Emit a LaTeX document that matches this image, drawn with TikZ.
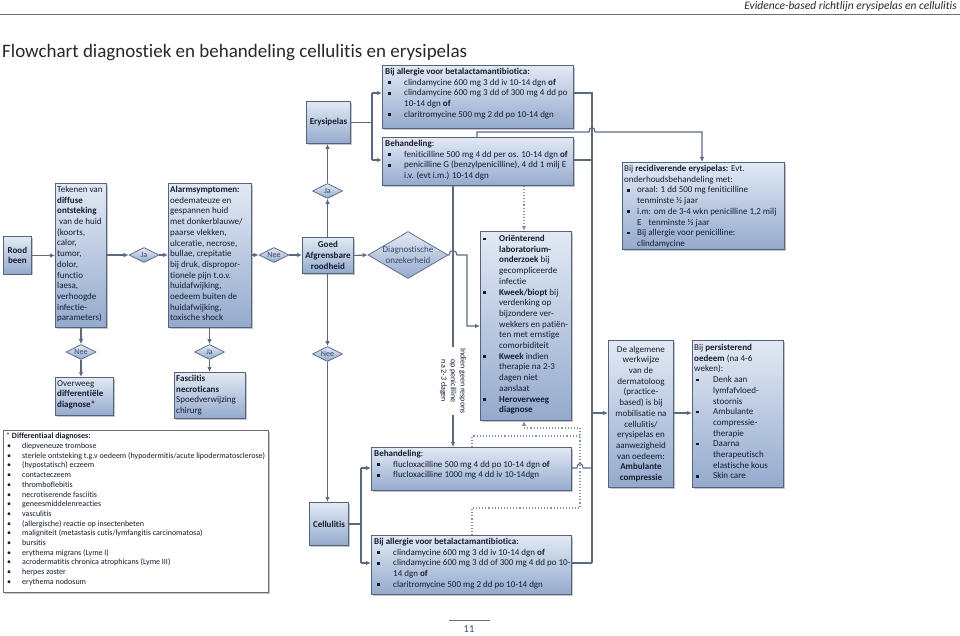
\documentclass[tikz,border=0pt]{standalone}
\usepackage{fontspec}
\setmainfont{Carlito}[Ligatures=NoCommon]
\usetikzlibrary{arrows.meta,shapes.geometric,shadows}

\definecolor{boxtop}{RGB}{226,233,244}
\definecolor{boxbot}{RGB}{148,170,205}
\definecolor{bordc}{RGB}{84,100,126}
\definecolor{txtc}{RGB}{20,28,46}
\definecolor{linec}{RGB}{92,106,128}
\definecolor{dlabc}{RGB}{56,72,98}
\definecolor{dotc}{RGB}{135,145,160}
\definecolor{hdrc}{RGB}{40,40,40}
\definecolor{rulec}{RGB}{110,110,110}

\newcommand{\fsz}{\fontsize{9}{10.7}\selectfont}
\newcommand{\xbul}[1]{\makebox[#1][l]{\raisebox{1.4pt}{\rule{2.6pt}{2.6pt}}}}
\newcommand{\xB}[2]{\hspace*{#1}\xbul{#2}}
\newcommand{\xI}[2]{\hspace*{\dimexpr#1+#2\relax}}
\newcommand{\xsq}{\xB{3pt}{16pt}}
\newcommand{\xind}{\xI{3pt}{16pt}}
\newcommand{\xrsq}{\xB{3pt}{10pt}}
\newcommand{\xrind}{\xI{3pt}{10pt}}
\newcommand{\xpsq}{\xB{2pt}{17pt}}
\newcommand{\xpind}{\xI{2pt}{17pt}}
\newcommand{\xosq}{\xB{0pt}{16pt}}
\newcommand{\xoind}{\xI{0pt}{16pt}}
\newcommand{\xdsq}{\hspace*{1pt}\makebox[15pt][l]{\textbullet}}

\begin{document}
\begin{tikzpicture}[x=1pt,y=-1pt,
  box/.style={draw=bordc, line width=0.9pt, top color=boxtop, bottom color=boxbot,
    drop shadow={shadow xshift=1.3pt, shadow yshift=-1.3pt, opacity=0.45},
    inner sep=0pt, anchor=north west, text=txtc, font=\fsz},
  tx/.style={inner sep=0pt, anchor=north west, align=left, text=txtc, font=\fsz},
  dec/.style={diamond, aspect=2, draw=bordc, line width=0.7pt, top color=boxtop, bottom color=boxbot,
    minimum width=30pt, minimum height=15pt, inner sep=0pt, text=dlabc, font=\fontsize{8}{9}\selectfont},
  conn/.style={draw=linec, line width=1.1pt},
  arr/.style={conn, -{Latex[length=5pt,width=4.5pt]}},
  dots/.style={draw=dotc, line width=1.1pt, dotted},
  dotarr/.style={dots, -{Latex[length=5pt,width=4.5pt]}}
]
\fill[white] (0,0) rectangle (960,636);
\useasboundingbox (0,0) rectangle (960,636);

% header
\node[anchor=east, inner sep=0pt, font=\fontsize{11.5}{13}\selectfont\itshape, text=hdrc] (hdr) at (957,6) {Evidence-based richtlijn erysipelas en cellulitis};
\draw[rulec, line width=1.4pt] (0,14.5) -- (960,14.5);
\node[anchor=west, inner sep=0pt, font=\fontsize{19}{22}\selectfont, text=hdrc] (title) at (2,53) {Flowchart diagnostiek en behandeling cellulitis en erysipelas};

% left chain
\node[box, minimum width=28pt, minimum height=37pt, align=center, font=\bfseries\fsz] (rood) at (3,236.5) {Rood\\been};

\node[box, minimum width=51pt, minimum height=144pt] (tek) at (55,183) {};
\node[tx] (tekt) at ([xshift=2pt,yshift=-3pt]tek.north west) {Tekenen van\\\textbf{diffuse}\\\textbf{ontsteking}\\\hspace*{2pt}van de huid\\(koorts,\\calor,\\tumor,\\dolor,\\functio\\laesa,\\verhoogde\\infectie-\\parameters)};

\node[dec] (ja1) at (144,255) {Ja};

\node[box, minimum width=83pt, minimum height=144pt] (alarm) at (168,183) {};
\node[tx] (alarmt) at ([xshift=2pt,yshift=-3pt]alarm.north west) {\textbf{Alarmsymptomen:}\\oedemateuze en\\gespannen huid\\met donkerblauwe/\\paarse vlekken,\\ulceratie, necrose,\\bullae, crepitatie\\bij druk, dispropor-\\tionele pijn t.o.v.\\huidafwijking,\\oedeem buiten de\\huidafwijking,\\toxische shock};

\node[dec] (nee1) at (274,255) {Nee};

\node[box, minimum width=51pt, minimum height=36pt, align=center, font=\bfseries\fsz] (goed) at (302,237) {Goed\\Afgrensbare\\roodheid};

\node[dec, minimum width=80pt, minimum height=47pt] (dia) at (408,255) {};
\node[inner sep=0pt, align=center, text=dlabc, font=\fsz] (diat) at (dia) {Diagnostische\\onzekerheid};

% below tek / alarm
\node[dec] (nee2) at (81,352) {Nee};
\node[box, minimum width=58pt, minimum height=38pt] (over) at (55,377) {};
\node[tx] (overt) at ([xshift=2pt,yshift=-3pt]over.north west) {Overweeg\\\textbf{differentiële}\\\textbf{diagnose*}};

\node[dec] (ja2) at (209.5,352) {Ja};
\node[box, minimum width=71pt, minimum height=46pt] (fasc) at (174,372) {};
\node[tx] (fasct) at ([xshift=2pt,yshift=-3pt]fasc.north west) {\textbf{Fasciitis}\\\textbf{necroticans}\\Spoedverwijzing\\chirurg};

% centre column
\node[dec] (ja3) at (327.5,191) {Ja};
\node[box, minimum width=44pt, minimum height=42pt, font=\bfseries\fsz] (erys) at (306,101) {Erysipelas};
\node[dec] (nee3) at (327.5,354) {Nee};
\node[box, minimum width=39pt, minimum height=43pt, font=\bfseries\fsz] (cell) at (309,502) {Cellulitis};

% differential
\node[draw=rulec, line width=0.9pt, fill=white, drop shadow={shadow xshift=1.3pt, shadow yshift=-1.3pt, opacity=0.45}, anchor=north west, inner sep=0pt, minimum width=265pt, minimum height=162pt] (diff) at (3,430) {};
\node[tx, font=\fontsize{8}{9.7}\selectfont] (difft) at ([xshift=3pt,yshift=-3pt]diff.north west) {* \textbf{Differentiaal diagnoses:}\\
\xdsq diepveneuze trombose\\
\xdsq steriele ontsteking t.g.v oedeem (hypodermitis/acute lipodermatosclerose)\\
\xdsq (hypostatisch) eczeem\\
\xdsq contacteczeem\\
\xdsq thromboflebitis\\
\xdsq necrotiserende fasciitis\\
\xdsq geneesmiddelenreacties\\
\xdsq vasculitis\\
\xdsq (allergische) reactie op insectenbeten\\
\xdsq maligniteit (metastasis cutis/lymfangitis carcinomatosa)\\
\xdsq bursitis\\
\xdsq erythema migrans (Lyme I)\\
\xdsq acrodermatitis chronica atrophicans (Lyme III)\\
\xdsq herpes zoster\\
\xdsq erythema nodosum};

% erysipelas treatment
\node[box, minimum width=191pt, minimum height=63pt] (all1) at (382,65) {};
\node[tx] (all1t) at ([xshift=3pt,yshift=-3pt]all1.north west) {\textbf{Bij allergie voor betalactamantibiotica:}\\
\xsq clindamycine 600 mg 3 dd iv 10-14 dgn \textbf{of}\\
\xsq clindamycine 600 mg 3 dd of 300 mg 4 dd po\\
\xind 10-14 dgn \textbf{of}\\
\xsq claritromycine 500 mg 2 dd po 10-14 dgn};

\node[box, minimum width=191pt, minimum height=48pt] (beh1) at (382,137) {};
\node[tx] (beh1t) at ([xshift=3pt,yshift=-3pt]beh1.north west) {\textbf{Behandeling}:\\
\xsq feniticilline 500 mg 4 dd per os. 10-14 dgn \textbf{of}\\
\xsq penicilline G (benzylpenicilline), 4 dd 1 milj E\\
\xind i.v. (evt i.m.) 10-14 dgn};

% orienterend
\node[box, minimum width=91pt, minimum height=189pt] (ori) at (480,231) {};
\node[tx] (orit) at ([xshift=3pt,yshift=-4pt]ori.north west) {\xosq\textbf{Oriënterend}\\
\xoind\textbf{laboratorium-}\\
\xoind\textbf{onderzoek} bij\\
\xoind gecompliceerde\\
\xoind infectie\\
\xosq\textbf{Kweek/biopt} bij\\
\xoind verdenking op\\
\xoind bijzondere ver-\\
\xoind wekkers en patiën-\\
\xoind ten met ernstige\\
\xoind comorbiditeit\\
\xosq\textbf{Kweek} indien\\
\xoind therapie na 2-3\\
\xoind dagen niet\\
\xoind aanslaat\\
\xosq\textbf{Heroverweeg}\\
\xoind\textbf{diagnose}};

% cellulitis treatment
\node[box, minimum width=200pt, minimum height=43pt] (beh2) at (371,447) {};
\node[tx] (beh2t) at ([xshift=3pt,yshift=-3pt]beh2.north west) {\textbf{Behandeling}:\\
\xsq flucloxacilline 500 mg 4 dd po 10-14 dgn \textbf{of}\\
\xsq flucloxacilline 1000 mg 4 dd iv 10-14dgn};

\node[box, minimum width=200pt, minimum height=59pt] (all2) at (371,535) {};
\node[tx] (all2t) at ([xshift=3pt,yshift=-3pt]all2.north west) {\textbf{Bij allergie voor betalactamantibiotica:}\\
\xsq clindamycine 600 mg 3 dd iv 10-14 dgn \textbf{of}\\
\xsq clindamycine 600 mg 3 dd of 300 mg 4 dd po 10-\\
\xind 14 dgn \textbf{of}\\
\xsq claritromycine 500 mg 2 dd po 10-14 dgn};

% right column
\node[box, minimum width=162pt, minimum height=87pt] (recid) at (622,162) {};
\node[tx] (recidt) at ([xshift=2pt,yshift=-3pt]recid.north west) {Bij \textbf{recidiverende erysipelas:} Evt.\\
onderhoudsbehandeling met:\\
\xrsq oraal: 1 dd 500 mg feniticilline\\
\xrind tenminste ½ jaar\\
\xrsq i.m: om de 3-4 wkn penicilline 1,2 milj\\
\xrind E\hspace*{5pt} tenminste ½ jaar\\
\xrsq Bij allergie voor penicilline:\\
\xrind clindamycine};

\node[box, minimum width=65pt, minimum height=147pt] (alg) at (608,340) {};
\node[inner sep=0pt, align=center, text=txtc, font=\fsz] (algt) at (alg) {De algemene\\werkwijze\\van de\\dermatoloog\\(practice-\\based) is bij\\mobilisatie na\\cellulitis/\\erysipelas en\\aanwezigheid\\van oedeem:\\\textbf{Ambulante}\\\textbf{compressie}};

\node[box, minimum width=91pt, minimum height=147pt] (pers) at (692,340) {};
\node[tx] (perst) at ([xshift=2pt,yshift=-4pt]pers.north west) {Bij \textbf{persisterend}\\
\textbf{oedeem} (na 4-6\\
weken):\\
\xpsq Denk aan\\
\xpind lymfafvloed-\\
\xpind stoornis\\
\xpsq Ambulante\\
\xpind compressie-\\
\xpind therapie\\
\xpsq Daarna\\
\xpind therapeutisch\\
\xpind elastische kous\\
\xpsq Skin care};

% coordinates for routing
\coordinate (e1) at (372,93);
\coordinate (e2) at (372,160);
\coordinate (c1) at (361,468);
\coordinate (c2) at (361,563);
\coordinate (vx) at (453,0);
\coordinate (ox) at (524,0);
\coordinate (rx) at (592,0);
\coordinate (d1) at (467,326);
\coordinate (a1) at (592,413);
\coordinate (t1) at (477,132);
\coordinate (t2) at (702,132);
\coordinate (dx) at (472,0);

% main row
\draw[arr] (rood.east) -- (rood.east -| tek.west);
\draw[arr] (tek.east |- ja1) -- (ja1.west);
\draw[arr] (ja1.east) -- (ja1 -| alarm.west);
\draw[arr] (alarm.east |- nee1) -- (nee1.west);
\draw[arr] (nee1.east) -- (nee1 -| goed.west);
\draw[arr] (goed.east) -- (dia.west);

% down from tek / alarm
\draw[arr] (nee2 |- tek.south) -- (nee2.north);
\draw[arr] (nee2.south) -- (nee2 |- over.north);
\draw[arr] (ja2 |- alarm.south) -- (ja2.north);
\draw[arr] (ja2.south) -- (ja2 |- fasc.north);

% centre column
\draw[arr] (ja3 |- goed.north) -- (ja3.south);
\draw[arr] (ja3.north) -- (ja3 |- erys.south);
\draw[arr] (nee3 |- goed.south) -- (nee3.north);
\draw[arr] (nee3.south) -- (nee3 |- cell.north);

% erysipelas branches
\draw[conn] (erys.east) -| (e1);
\draw[conn] (erys.east) -| (e2);
\draw[arr] (e1) -- (e1 -| all1.west);
\draw[arr] (e2) -- (e2 -| beh1.west);

% cellulitis branches
\draw[conn] (cell.east) -| (c1);
\draw[conn] (cell.east) -| (c2);
\draw[arr] (c1) -- (c1 -| beh2.west);
\draw[arr] (c2) -- (c2 -| all2.west);

% diagnostic uncertainty to orienterend (with hop)
\draw[arr] (dia.east) -- (449,255) .. controls (449,249) and (457,249) .. (457,255) -- (467,255) -- (d1) -- (d1 -| ori.west);

% no response line
\draw[arr] (vx |- beh1.south) -- (vx |- beh2.north);
\node[rotate=-90, fill=white, inner sep=1.5pt, align=center, text=txtc, font=\fontsize{8}{9.6}\selectfont] (lbl) at (453,381) {Indien geen respons\\op penicilline\\na 2-3 dagen};

% dotted links
\draw[dotarr] (ox |- beh1.south) -- (ox |- ori.north);
\draw[dots] (dx |- beh2.north) -- (472,436) -- (580,436);
\draw[dotarr] (dx |- all2.north) -- (472,508) -- (580,508) -- (580,428) -- (524,428) -- (ox |- ori.south);

% right-hand collector
\draw[conn] (e1 -| all1.east) -- (e1 -| rx) -- (rx |- c2);
\draw[conn] (e2 -| beh1.east) -- (e2 -| rx);
\draw[conn] (c1 -| beh2.east) -- (577,468) .. controls (577,462) and (583,462) .. (583,468) -- (c1 -| rx);
\draw[conn] (c2 -| all2.east) -- (c2 -| rx);
\draw[arr] (a1) -- (a1 -| alg.west);
\draw[arr] (a1 -| alg.east) -- (a1 -| pers.west);

% to recidiverende
\draw[arr] (t1 |- beh1.north) -- (t1) -- (589,132) .. controls (589,126) and (595,126) .. (595,132) -- (t2) -- (t2 |- recid.north);

% page number
\draw[rulec, line width=0.9pt] (449,620) -- (490,620);
\node[inner sep=0pt, font=\fontsize{10.5}{12}\selectfont, text=dlabc] (pnum) at (469,629) {11};
\end{tikzpicture}
\end{document}
